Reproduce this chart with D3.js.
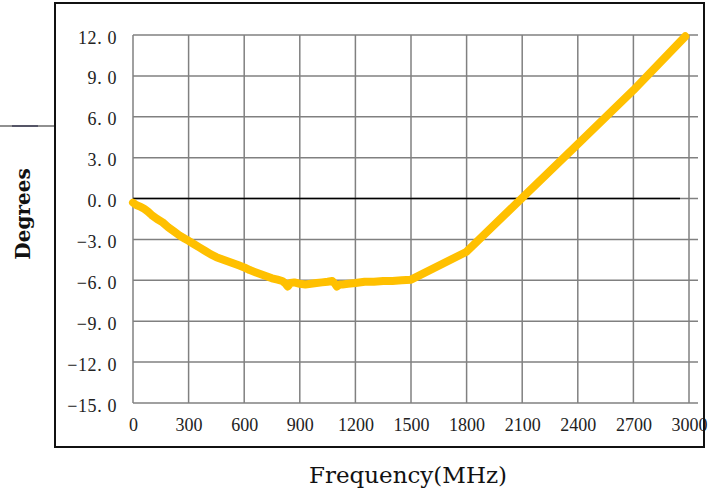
<!DOCTYPE html>
<html>
<head>
<meta charset="utf-8">
<script src="https://cdn.jsdelivr.net/npm/d3@7"></script>
<style>
  body { margin: 0; background: #fff; }
  svg { display: block; }
</style>
</head>
<body>
<div id="chart"></div>
<script>
// phase vs frequency
const freqs = [0, 20, 40, 60, 80, 100, 130, 160, 190, 220, 250, 280, 300, 330, 360, 390, 420, 450, 480, 510,
  540, 570, 600, 630, 660, 690, 720, 750, 780, 805, 820, 835, 850, 870, 900, 930, 960, 990, 1020, 1050, 1075,
  1090, 1100, 1115, 1130, 1160, 1200, 1250, 1300, 1350, 1400, 1450, 1500, 1800, 2100, 2400, 2700, 2980];
const degrees = [-0.3, -0.5, -0.6, -0.75, -0.95, -1.2, -1.5, -1.75, -2.1, -2.4, -2.7, -2.95, -3.1, -3.35, -3.6, -3.85, -4.1, -4.3, -4.45, -4.6,
  -4.75, -4.9, -5.05, -5.25, -5.4, -5.55, -5.7, -5.85, -5.95, -6.05, -6.2, -6.45, -6.2, -6.15, -6.25, -6.3, -6.25, -6.2, -6.15, -6.1, -6.05,
  -6.25, -6.45, -6.3, -6.3, -6.25, -6.2, -6.1, -6.1, -6.05, -6.05, -6.0, -5.95, -3.9, 0.05, 4.0, 7.95, 11.9];

const xTicks = [0, 300, 600, 900, 1200, 1500, 1800, 2100, 2400, 2700, 3000];
const yTicks = [-15, -12, -9, -6, -3, 0, 3, 6, 9, 12];

const W = 718, H = 495;
const svg = d3.select("#chart").append("svg")
  .attr("width", W)
  .attr("height", H);

const x = d3.scaleLinear().domain([0, 3000]).range([133, 689]);
const y = d3.scaleLinear().domain([-15, 12]).range([403, 35]);

// stray line at the left edge
svg.append("line")
  .attr("x1", 0).attr("x2", 55).attr("y1", 126).attr("y2", 126)
  .attr("stroke", "#222").attr("stroke-width", 1.2);
svg.append("line")
  .attr("x1", 12).attr("x2", 38).attr("y1", 126).attr("y2", 126)
  .attr("stroke", "#556").attr("stroke-width", 2);

// grid
const grid = svg.append("g").attr("stroke", "#808080").attr("stroke-width", 1.5);
grid.selectAll(".vg")
  .data(xTicks)
  .join("line")
  .attr("class", "vg")
  .attr("x1", d => x(d)).attr("x2", d => x(d))
  .attr("y1", y(12)).attr("y2", y(-15));
grid.selectAll(".hg")
  .data(yTicks)
  .join("line")
  .attr("class", "hg")
  .attr("x1", x(0)).attr("x2", x(3000) + 9)
  .attr("y1", d => y(d)).attr("y2", d => y(d));

// zero line
svg.append("line")
  .attr("x1", x(0)).attr("x2", x(3000) - 9)
  .attr("y1", y(0)).attr("y2", y(0))
  .attr("stroke", "#000").attr("stroke-width", 1.5);

// tick labels
const fmt = d => d3.format(".1f")(d).replace(".", ". ");
const yAxis = svg.append("g")
  .attr("transform", "translate(120,0)")
  .call(d3.axisLeft(y).tickValues(yTicks).tickSize(0).tickFormat(fmt));
yAxis.select(".domain").remove();
yAxis.selectAll("text")
  .attr("dy", "0.45em")
  .attr("font-family", "Liberation Serif")
  .attr("font-size", 18)
  .attr("letter-spacing", 0.6)
  .attr("fill", "#222");

const xAxis = svg.append("g")
  .attr("transform", "translate(0,415)")
  .call(d3.axisBottom(x).tickValues(xTicks).tickSize(0).tickFormat(d3.format("d")));
xAxis.select(".domain").remove();
xAxis.selectAll("text")
  .attr("dy", "0.71em")
  .attr("font-family", "Liberation Serif")
  .attr("font-size", 18)
  .attr("fill", "#222");

// data line
const line = d3.line()
  .x((d, i) => x(freqs[i]))
  .y(d => y(d));
svg.append("path")
  .attr("d", line(degrees))
  .attr("fill", "none")
  .attr("stroke", "#FFC000")
  .attr("stroke-width", 8)
  .attr("stroke-linejoin", "round")
  .attr("stroke-linecap", "round");

// outer frame
svg.append("rect")
  .attr("x", 55).attr("y", 3)
  .attr("width", 649).attr("height", 444)
  .attr("fill", "none")
  .attr("stroke", "#111")
  .attr("stroke-width", 2);

// axis titles
svg.append("text")
  .attr("transform", "translate(30,214) rotate(-90)")
  .attr("text-anchor", "middle")
  .attr("font-family", "DejaVu Serif")
  .attr("font-weight", "bold")
  .attr("font-size", 20)
  .attr("fill", "#111")
  .text("Degrees");

svg.append("text")
  .attr("x", 408).attr("y", 483)
  .attr("text-anchor", "middle")
  .attr("font-family", "DejaVu Serif")
  .attr("font-size", 23)
  .attr("fill", "#111")
  .text("Frequency(MHz)");
</script>
</body>
</html>
